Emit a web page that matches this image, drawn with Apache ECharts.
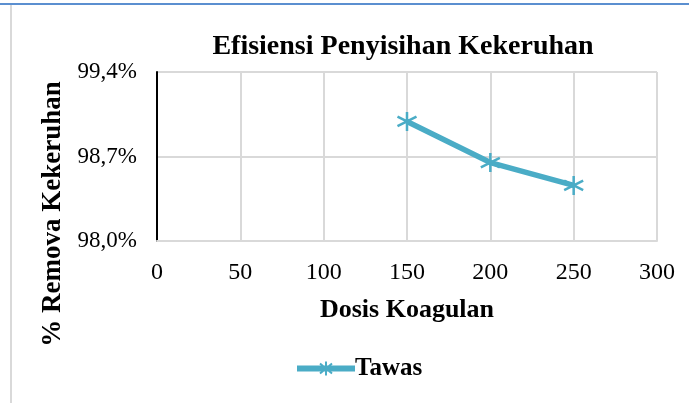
<!DOCTYPE html>
<html><head><meta charset="utf-8">
<script src="https://cdn.jsdelivr.net/npm/echarts@6/dist/echarts.min.js"></script>
<style>html,body{margin:0;padding:0;background:#fff}#c{width:689px;height:403px}</style>
</head><body><div id="c"></div>
<script>
var dosis = [150, 200, 250];
var removal = [98.99, 98.65, 98.46];
var xTicks = [0, 50, 100, 150, 200, 250, 300];
var yTicks = [98.0, 98.7, 99.4];
var seriesName = 'Tawas';
var yTitle = '% Remova Kekeruhan';

var star = 'path://M0,-10 L0,10 M-8.66,-5 L8.66,5 M-8.66,5 L8.66,-5';
var F = '"Liberation Serif","Times New Roman",serif';
var chart = echarts.init(document.getElementById('c'));
chart.setOption({
  animation: false,
  backgroundColor: '#fff',
  title: {text: 'Efisiensi Penyisihan Kekeruhan', left: 398, textAlign: 'center', top: 28,
    textStyle: {fontFamily: F, fontWeight: 'bold', fontSize: 28, color: '#000'}},
  graphic: [
    {type: 'line', shape: {x1: 0, y1: 4, x2: 689, y2: 4}, style: {stroke: '#5b8fd0', lineWidth: 2}},
    {type: 'line', shape: {x1: 11, y1: 5, x2: 11, y2: 403}, style: {stroke: '#d9d9d9', lineWidth: 2}},
    {type: 'text', x: 53, y: 214, rotation: Math.PI / 2,
      style: {text: yTitle, font: 'bold 27px "Liberation Serif","Times New Roman",serif',
        fill: '#000', textAlign: 'center', textVerticalAlign: 'middle'}}
  ],
  legend: {bottom: 17, left: 292, itemWidth: 56, itemHeight: 14, itemGap: 4,
    textStyle: {fontFamily: F, fontWeight: 'bold', fontSize: 25, color: '#000', padding: [0,0,0,-4]},
    data: [{name: seriesName, icon: 'path://M0,5 L56,5 L56,9 L0,9 Z M28,0 L28,14 M22,2 L34,12 M22,12 L34,2'}]},
  grid: {left: 157, right: 32, top: 72, bottom: 162},
  xAxis: {type: 'value', min: 0, max: 300, interval: 50,
    name: 'Dosis Koagulan', nameLocation: 'middle', nameGap: 56,
    nameTextStyle: {fontFamily: F, fontWeight: 'bold', fontSize: 26, color: '#000'},
    axisLine: {lineStyle: {color: '#d9d9d9', width: 2}}, axisTick: {show: false},
    axisLabel: {fontFamily: F, fontSize: 24, color: '#000', margin: 20},
    splitLine: {show: true, lineStyle: {color: '#d9d9d9', width: 2}}},
  yAxis: {type: 'value', min: 98.0, max: 99.4, interval: 0.7,
    axisLine: {show: true, lineStyle: {color: '#000', width: 2}}, axisTick: {show: false},
    axisLabel: {fontFamily: F, fontSize: 23, color: '#000', margin: 20, padding: [6, 0, 0, 0],
      formatter: function (v) { return v.toFixed(1).replace('.', ',') + '%'; }},
    splitLine: {show: true, lineStyle: {color: '#d9d9d9', width: 2}}},
  series: [{name: seriesName, type: 'line',
    data: dosis.map(function (d, i) { return [d, removal[i]]; }),
    lineStyle: {color: '#4aacc6', width: 5.5},
    itemStyle: {color: '#4aacc6', borderColor: '#4aacc6', borderWidth: 2.5},
    symbol: star, symbolSize: 19, showSymbol: true}]
});
</script></body></html>
